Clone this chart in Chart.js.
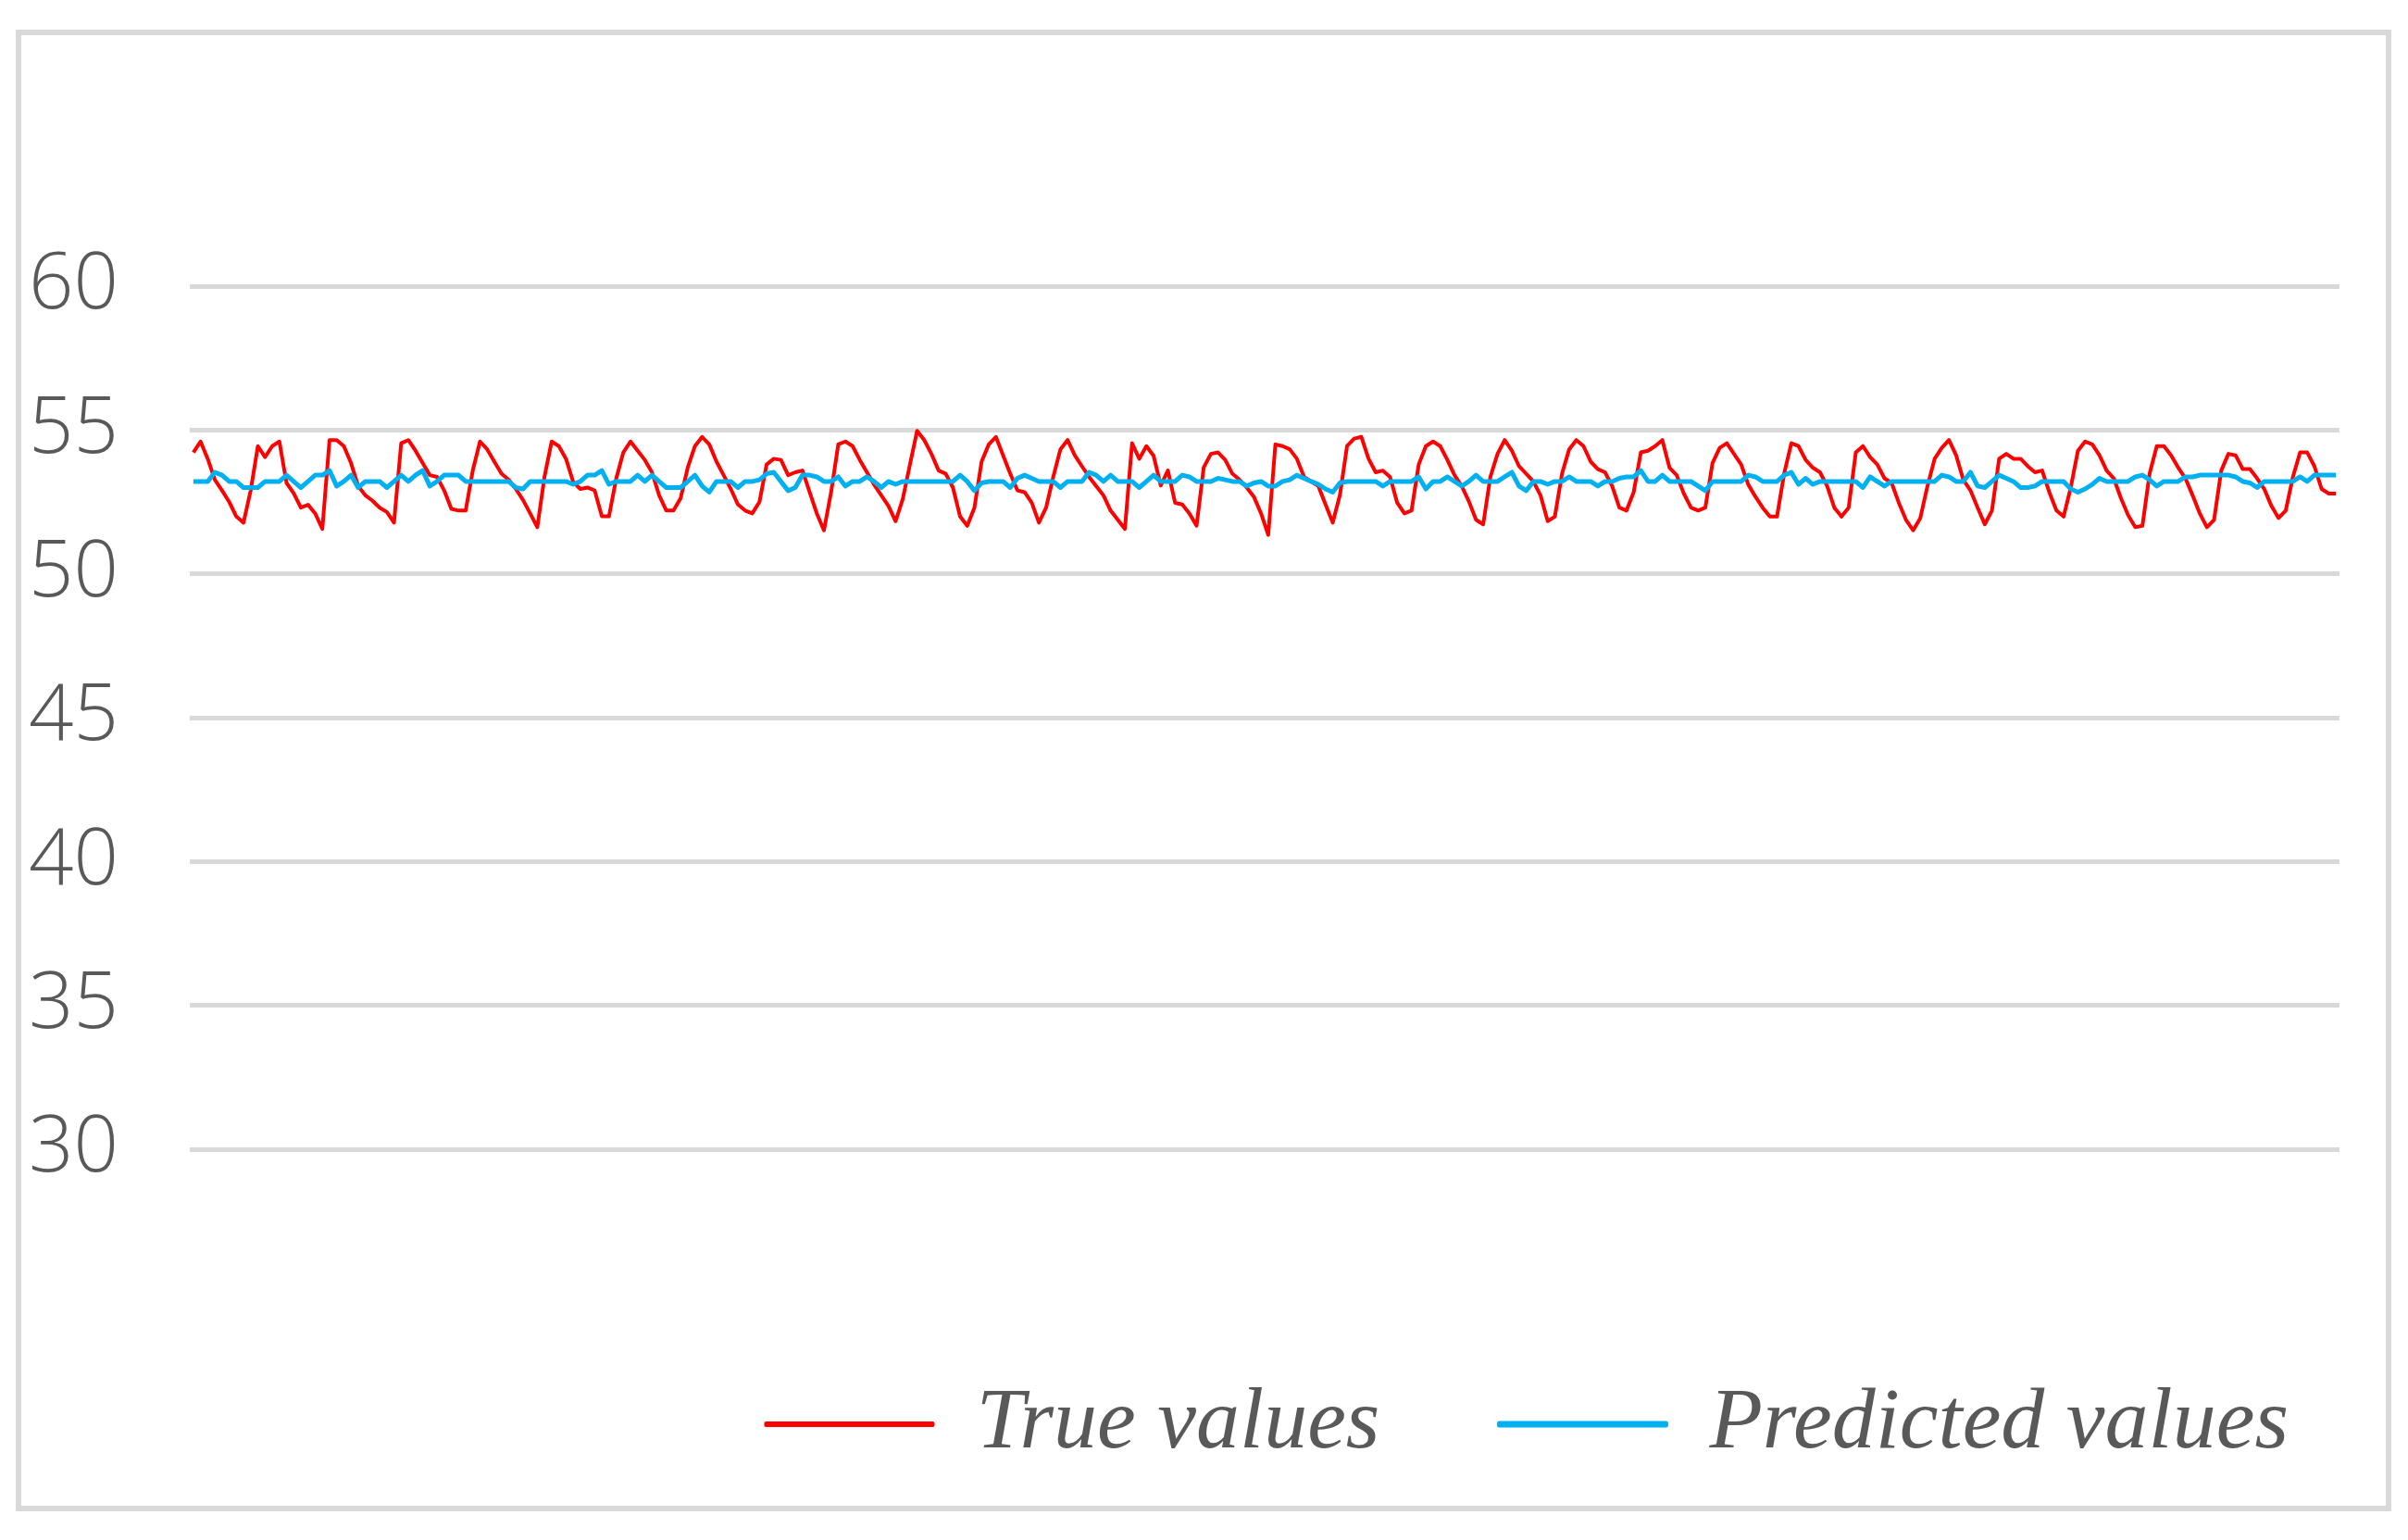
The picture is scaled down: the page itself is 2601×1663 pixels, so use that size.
<!DOCTYPE html>
<html>
<head>
<meta charset="utf-8">
<script src="https://cdn.jsdelivr.net/npm/chart.js@4.4.1/dist/chart.umd.min.js"></script>
<style>
  html, body { margin: 0; padding: 0; background: #ffffff; }
  #wrap { position: relative; width: 2601px; height: 1663px; }
  #frame { position: absolute; left: 17px; top: 32px; width: 2566px; height: 1600px;
           box-sizing: border-box; border: 6px solid #d9d9d9; }
  #c { position: absolute; left: 0; top: 0; }
</style>
</head>
<body>
<div id="wrap">
  <div id="frame"></div>
  <canvas id="c" width="2601" height="1663"></canvas>
</div>
<script>
// ---- data ----
const seriesNames = ['True values', 'Predicted values'];

const trueValues = [
  54.22,54.6,54.0,53.27,52.9,52.5,51.99,51.78,52.9,54.44,
  54.06,54.44,54.6,53.16,52.8,52.3,52.4,52.1,51.56,54.65,
  54.65,54.44,53.85,53.05,52.73,52.54,52.3,52.15,51.78,54.54,
  54.65,54.28,53.85,53.43,53.37,52.9,52.26,52.2,52.2,53.6,
  54.6,54.33,53.9,53.48,53.27,52.95,52.57,52.1,51.62,53.37,
  54.6,54.44,54.0,53.2,52.95,53.0,52.9,52.0,52.0,53.3,
  54.22,54.6,54.28,53.96,53.53,52.73,52.2,52.2,52.63,53.7,
  54.44,54.76,54.5,53.9,53.43,52.95,52.41,52.2,52.1,52.5,
  53.8,54.0,53.96,53.43,53.53,53.59,52.84,52.1,51.51,52.84,
  54.5,54.6,54.44,53.96,53.53,53.1,52.73,52.36,51.83,52.6,
  53.8,54.97,54.65,54.17,53.59,53.48,53.0,51.99,51.67,52.3,
  53.9,54.5,54.76,54.12,53.48,52.9,52.84,52.47,51.78,52.3,
  53.37,54.33,54.65,54.12,53.74,53.37,53.05,52.73,52.2,51.88,
  51.56,54.54,54.0,54.44,54.1,53.07,53.59,52.47,52.41,52.1,
  51.67,53.7,54.17,54.22,53.96,53.48,53.27,53.0,52.68,52.1,
  51.35,54.5,54.44,54.33,54.0,53.37,53.21,53.05,52.41,51.78,
  52.73,54.44,54.7,54.76,54.0,53.53,53.59,53.37,52.47,52.1,
  52.2,53.8,54.44,54.6,54.44,53.96,53.43,53.05,52.52,51.88,
  51.72,53.37,54.17,54.65,54.28,53.74,53.48,53.21,52.73,51.83,
  51.99,53.48,54.33,54.65,54.44,53.9,53.64,53.53,53.05,52.3,
  52.2,52.84,54.22,54.28,54.44,54.65,53.69,53.43,52.79,52.3,
  52.2,52.3,53.85,54.38,54.54,54.17,53.8,53.1,52.68,52.3,
  51.99,51.99,53.48,54.54,54.44,53.96,53.69,53.53,53.05,52.3,
  51.99,52.3,54.22,54.44,54.06,53.8,53.32,53.16,52.47,51.88,
  51.51,51.94,53.05,54.0,54.38,54.65,54.12,53.27,52.9,52.3,
  51.72,52.2,54.0,54.17,54.0,54.0,53.74,53.53,53.59,52.84,
  52.2,51.99,53.0,54.28,54.6,54.5,54.12,53.59,53.32,52.63,
  52.04,51.62,51.67,53.48,54.44,54.44,54.12,53.69,53.32,52.73,
  52.1,51.62,51.88,53.59,54.17,54.12,53.64,53.64,53.32,52.95,
  52.36,51.94,52.2,53.37,54.22,54.22,53.74,52.95,52.79,52.79
];

const predictedValues = [
  53.21,53.21,53.21,53.53,53.43,53.21,53.21,53.0,53.0,53.0,
  53.21,53.21,53.21,53.43,53.21,53.0,53.21,53.43,53.43,53.59,
  53.05,53.21,53.43,53.0,53.21,53.21,53.21,53.0,53.21,53.43,
  53.21,53.43,53.59,53.05,53.21,53.43,53.43,53.43,53.21,53.21,
  53.21,53.21,53.21,53.21,53.21,53.0,52.95,53.21,53.21,53.21,
  53.21,53.21,53.21,53.11,53.21,53.43,53.43,53.59,53.11,53.21,
  53.21,53.21,53.43,53.21,53.43,53.21,53.0,53.0,53.0,53.21,
  53.43,53.05,52.84,53.21,53.21,53.21,53.0,53.21,53.21,53.27,
  53.48,53.53,53.21,52.89,53.0,53.43,53.43,53.37,53.21,53.21,
  53.37,53.05,53.21,53.21,53.37,53.21,53.0,53.21,53.11,53.21,
  53.21,53.21,53.21,53.21,53.21,53.21,53.21,53.43,53.21,52.89,
  53.16,53.21,53.21,53.21,53.0,53.32,53.43,53.32,53.21,53.21,
  53.21,53.0,53.21,53.21,53.21,53.53,53.43,53.21,53.43,53.21,
  53.21,53.21,53.0,53.21,53.43,53.21,53.21,53.21,53.43,53.37,
  53.21,53.21,53.21,53.32,53.27,53.21,53.21,53.05,53.16,53.21,
  53.05,53.05,53.21,53.27,53.43,53.32,53.21,53.11,52.95,52.84,
  53.16,53.21,53.21,53.21,53.21,53.21,53.05,53.21,53.21,53.21,
  53.21,53.37,52.95,53.21,53.21,53.37,53.21,53.05,53.21,53.43,
  53.21,53.21,53.21,53.37,53.53,53.05,52.89,53.21,53.21,53.11,
  53.21,53.21,53.37,53.21,53.21,53.21,53.05,53.21,53.21,53.32,
  53.37,53.37,53.59,53.21,53.21,53.43,53.21,53.21,53.21,53.21,
  53.05,52.89,53.21,53.21,53.21,53.21,53.21,53.43,53.37,53.21,
  53.21,53.21,53.43,53.53,53.11,53.32,53.11,53.21,53.21,53.21,
  53.21,53.21,53.21,53.0,53.37,53.21,53.05,53.21,53.21,53.21,
  53.21,53.21,53.21,53.21,53.43,53.37,53.21,53.21,53.53,53.05,
  53.0,53.21,53.43,53.32,53.21,53.0,53.0,53.05,53.21,53.21,
  53.21,53.21,52.95,52.84,52.95,53.11,53.32,53.21,53.21,53.21,
  53.21,53.37,53.43,53.27,53.05,53.21,53.21,53.21,53.37,53.37,
  53.43,53.43,53.43,53.43,53.43,53.37,53.21,53.16,53.0,53.21,
  53.21,53.21,53.21,53.21,53.37,53.21,53.43,53.43,53.43,53.43
];

// x categories: sample number (not shown)
const categories = trueValues.map((_, i) => String(i + 1));

// y axis ticks
const yMin = 30;
const yMax = 60;
const yStep = 5;

// ---- chart ----
const ctx = document.getElementById('c').getContext('2d');
new Chart(ctx, {
  type: 'line',
  data: {
    labels: categories,
    datasets: [
      {
        label: seriesNames[0],
        data: trueValues,
        borderColor: '#ff0000',
        backgroundColor: '#ff0000',
        borderWidth: 4,
        pointRadius: 0,
        tension: 0,
        fill: false,
        order: 1,
        borderJoinStyle: 'round'
      },
      {
        label: seriesNames[1],
        data: predictedValues,
        borderColor: '#00b0f0',
        backgroundColor: '#00b0f0',
        borderWidth: 5,
        pointRadius: 0,
        tension: 0,
        fill: false,
        order: 0,
        borderJoinStyle: 'round'
      }
    ]
  },
  options: {
    responsive: false,
    animation: false,
    devicePixelRatio: 1,
    layout: { padding: { top: 309, left: 0, right: 0, bottom: 68 } },
    scales: {
      x: {
        type: 'category',
        offset: true,
        display: true,
        grid: { display: false },
        border: { display: false },
        ticks: { display: false },
        afterFit: (scale) => { scale.height = 121; }
      },
      y: {
        position: 'left',
        min: yMin,
        max: yMax,
        ticks: {
          stepSize: yStep,
          padding: 77,
          color: '#595959',
          font: { family: '"Open Sans", "Liberation Sans", sans-serif', size: 85, weight: '300' }
        },
        grid: { color: '#d9d9d9', lineWidth: 5, drawTicks: false },
        border: { display: false },
        afterFit: (scale) => { scale.width = 205; }
      },
      yRight: {
        position: 'right',
        display: true,
        grid: { display: false },
        border: { display: false },
        ticks: { display: false },
        afterFit: (scale) => { scale.width = 74; }
      }
    },
    plugins: {
      tooltip: { enabled: false },
      legend: {
        display: true,
        position: 'bottom',
        align: 'end',
        labels: {
          boxWidth: 180,
          boxHeight: 2,
          padding: 129,
          color: '#595959',
          font: { family: '"Liberation Serif", serif', size: 94, style: 'italic' },
          sort: (a, b) => a.datasetIndex - b.datasetIndex
        }
      }
    }
  }
});
</script>
</body>
</html>
